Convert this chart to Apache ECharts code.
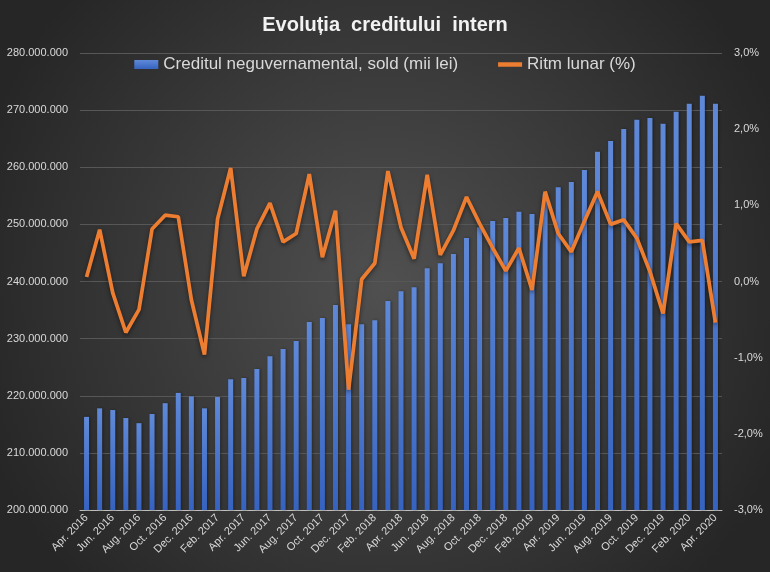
<!DOCTYPE html>
<html><head><meta charset="utf-8">
<script src="https://cdn.jsdelivr.net/npm/echarts@6/dist/echarts.min.js"></script>
<style>html,body{margin:0;padding:0;background:#333;}#c{width:770px;height:572px;}</style>
</head><body><div id="c"></div>
<script>
const categories = [
 "Apr. 2016","May 2016","Jun. 2016","Jul. 2016","Aug. 2016","Sep. 2016","Oct. 2016","Nov. 2016","Dec. 2016",
 "Jan. 2017","Feb. 2017","Mar. 2017","Apr. 2017","May 2017","Jun. 2017","Jul. 2017","Aug. 2017","Sep. 2017","Oct. 2017","Nov. 2017","Dec. 2017",
 "Jan. 2018","Feb. 2018","Mar. 2018","Apr. 2018","May 2018","Jun. 2018","Jul. 2018","Aug. 2018","Sep. 2018","Oct. 2018","Nov. 2018","Dec. 2018",
 "Jan. 2019","Feb. 2019","Mar. 2019","Apr. 2019","May 2019","Jun. 2019","Jul. 2019","Aug. 2019","Sep. 2019","Oct. 2019","Nov. 2019","Dec. 2019",
 "Jan. 2020","Feb. 2020","Mar. 2020","Apr. 2020"];
const creditSold = [
 216300000,217800000,217500000,216100000,215200000,216800000,218700000,220500000,219900000,
 217800000,219800000,222900000,223100000,224700000,226900000,228200000,229600000,232900000,233600000,235900000,232500000,
 232500000,233200000,236600000,238300000,239000000,242300000,243200000,244800000,247600000,249500000,250600000,251100000,
 252200000,251800000,255300000,256500000,257400000,259500000,262700000,264600000,266700000,268300000,268600000,267600000,
 269700000,271100000,272500000,271100000];
const ritmLunar = [
 0.06,0.68,-0.15,-0.67,-0.37,0.69,0.87,0.85,-0.24,
 -0.96,0.82,1.49,0.07,0.69,1.03,0.52,0.63,1.41,0.32,0.93,-1.42,
 0.03,0.24,1.45,0.71,0.30,1.40,0.35,0.67,1.11,0.76,0.44,0.14,
 0.44,-0.11,1.18,0.63,0.39,0.79,1.18,0.75,0.81,0.57,0.13,-0.42,
 0.76,0.52,0.54,-0.54];

const chart = echarts.init(document.getElementById('c'));
const txt = '#d9d9d9';
chart.setOption({
  backgroundColor: {type:'radial', x:0.5, y:0.5, r:0.75,
    colorStops:[{offset:0,color:'#505050'},{offset:1,color:'#262626'}]},
  animation:false,
  title:{text:'Evoluția  creditului  intern', left:'center', top:10,
    textStyle:{color:'#f2f2f2', fontSize:20, fontWeight:'bold', fontFamily:'Liberation Sans'}},
  legend:{top:51, left:'center', itemGap:40, itemWidth:24, itemHeight:9,
    textStyle:{color:txt, fontSize:17, fontFamily:'Liberation Sans Narrow, Liberation Sans'},
    data:[{name:'Creditul neguvernamental, sold (mii lei)', icon:'rect'},
          {name:'Ritm lunar (%)', icon:'path://M0,0 H16 V3 H0 Z'}]},
  grid:{left:80, right:48, top:53, bottom:62, containLabel:false},
  xAxis:{type:'category', data:categories, boundaryGap:true,
    axisLine:{onZero:false, lineStyle:{color:'#bfbfbf'}},
    axisTick:{interval:1, alignWithLabel:false, lineStyle:{color:'#bfbfbf'}, length:5},
    axisLabel:{interval:1, rotate:45, color:txt, fontSize:11, fontFamily:'Liberation Sans', margin:6}},
  yAxis:[
    {type:'value', min:200000000, max:280000000, interval:10000000,
     axisLine:{show:false}, axisTick:{show:false},
     splitLine:{lineStyle:{color:'#575757', width:1}},
     axisLabel:{color:txt, fontSize:11, fontFamily:'Liberation Sans', margin:12,
       formatter:v=>String(v).replace(/\B(?=(\d{3})+(?!\d))/g,'.')}},
    {type:'value', min:-3, max:3, interval:1,
     axisLine:{show:false}, axisTick:{show:false}, splitLine:{show:false},
     axisLabel:{color:txt, fontSize:11, fontFamily:'Liberation Sans', margin:12,
       formatter:v=>v.toFixed(1).replace('.',',')+'%'}}
  ],
  series:[
    {name:'Creditul neguvernamental, sold (mii lei)', type:'bar', data:creditSold, barWidth:5,
     itemStyle:{color:{type:'linear',x:0,y:0,x2:0,y2:1,
       colorStops:[{offset:0,color:'#5f89d8'},{offset:1,color:'#3663c0'}]},
       shadowColor:'rgba(0,0,0,0.4)', shadowBlur:3, shadowOffsetX:1}},
    {name:'Ritm lunar (%)', type:'line', yAxisIndex:1, data:ritmLunar, symbol:'none',
     lineStyle:{color:'#ed7d31', width:3.75, shadowColor:'rgba(0,0,0,0.5)', shadowBlur:4, shadowOffsetY:2},
     itemStyle:{color:'#ed7d31'}}
  ]
});
</script></body></html>
